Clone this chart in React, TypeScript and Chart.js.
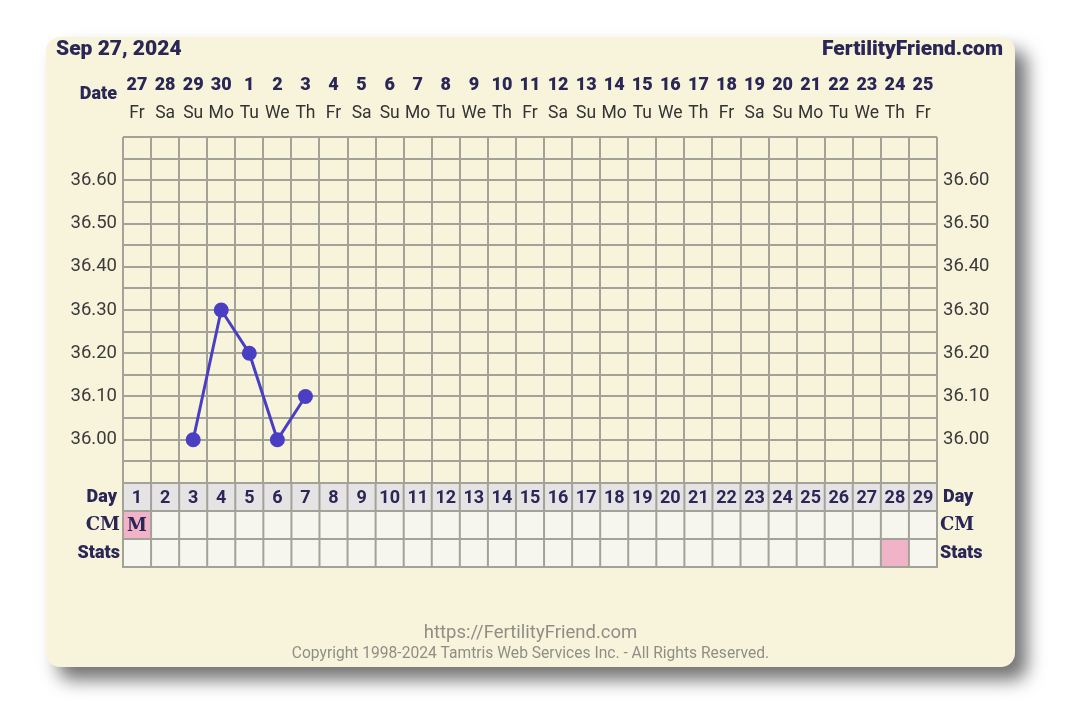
import React, { useEffect, useRef } from "react";
import { Chart, registerables } from "chart.js";

Chart.register(...registerables);

const chartTitle = "Sep 27, 2024";
const siteName = "FertilityFriend.com";
const footerUrl = "https://FertilityFriend.com";
const footerCopy = "Copyright 1998-2024 Tamtris Web Services Inc. - All Rights Reserved.";

const dates = ["27","28","29","30","1","2","3","4","5","6","7","8","9","10","11","12","13","14","15","16","17","18","19","20","21","22","23","24","25"];
const weekdays = ["Fr","Sa","Su","Mo","Tu","We","Th","Fr","Sa","Su","Mo","Tu","We","Th","Fr","Sa","Su","Mo","Tu","We","Th","Fr","Sa","Su","Mo","Tu","We","Th","Fr"];
const cycleDays = ["1","2","3","4","5","6","7","8","9","10","11","12","13","14","15","16","17","18","19","20","21","22","23","24","25","26","27","28","29"];
const temps: (number | null)[] = [null, null, 36.0, 36.3, 36.2, 36.0, 36.1, null, null, null, null, null, null, null, null, null, null, null, null, null, null, null, null, null, null, null, null, null, null];
const cmLabels = ["M","","","","","","","","","","","","","","","","","","","","","","","","","","","",""];
const cmHighlight = [true,false,false,false,false,false,false,false,false,false,false,false,false,false,false,false,false,false,false,false,false,false,false,false,false,false,false,false,false];
const statsHighlight = [false,false,false,false,false,false,false,false,false,false,false,false,false,false,false,false,false,false,false,false,false,false,false,false,false,false,false,true,false];
const tempGridTicks = [35.9, 35.95, 36.0, 36.05, 36.1, 36.15, 36.2, 36.25, 36.3, 36.35, 36.4, 36.45, 36.5, 36.55, 36.6, 36.65, 36.7];
const tempLabelTicks = [36.0, 36.1, 36.2, 36.3, 36.4, 36.5, 36.6];

const NAVY = "#2a2655";
const GRID = "#a3a299";
const LINE = "#4a3fc2";
const PINK = "#f1b3c7";

const W = 969;
const H = 630;

const labelFor = (v: number) => {
  const hit = tempLabelTicks.find((t) => Math.abs(t - v) < 1e-6);
  return hit !== undefined ? hit.toFixed(2) : "";
};

const overlayPlugin = {
  id: "ffOverlay",
  afterDraw(chart: any) {
    const ctx = chart.ctx as CanvasRenderingContext2D;
    const x = chart.scales.x;
    const area = chart.chartArea;
    const colW = (area.right - area.left) / cycleDays.length;
    ctx.save();
    ctx.textBaseline = "middle";

    // Title row
    ctx.fillStyle = NAVY;
    ctx.font = "900 21px Roboto";
    ctx.textAlign = "left";
    ctx.fillText(chartTitle, 10, 13);
    ctx.textAlign = "right";
    ctx.fillText(siteName, 957, 13);

    // Date header
    ctx.font = "900 18px Roboto";
    ctx.textAlign = "right";
    ctx.fillText("Date", 71, 57);
    ctx.textAlign = "center";
    dates.forEach((d, i) => {
      ctx.fillStyle = NAVY;
      ctx.font = "900 18px Roboto";
      ctx.fillText(d, x.getPixelForValue(i), 48);
      ctx.fillStyle = "#333333";
      ctx.font = "17.5px Roboto";
      ctx.fillText(weekdays[i], x.getPixelForValue(i), 77);
    });

    // Bottom rows
    const rowH = 28;
    const top = area.bottom;
    const rows = [
      { y: top, fill: "#e5e3e4" },
      { y: top + rowH, fill: "#f6f5ee" },
      { y: top + rowH * 2, fill: "#f6f5ee" },
    ];
    cycleDays.forEach((d, i) => {
      const cx = x.getPixelForValue(i);
      const left = cx - colW / 2;
      rows.forEach((r, ri) => {
        let fill = r.fill;
        if (ri === 1 && cmHighlight[i]) fill = PINK;
        if (ri === 2 && statsHighlight[i]) fill = PINK;
        ctx.fillStyle = fill;
        ctx.fillRect(left, r.y, colW, rowH);
      });
    });
    ctx.strokeStyle = GRID;
    ctx.lineWidth = 2;
    for (let i = 0; i <= cycleDays.length; i++) {
      const lx = area.left + colW * i;
      ctx.beginPath();
      ctx.moveTo(lx, top);
      ctx.lineTo(lx, top + rowH * 3);
      ctx.stroke();
    }
    for (let r = 0; r <= 3; r++) {
      ctx.beginPath();
      ctx.moveTo(area.left - 1, top + rowH * r);
      ctx.lineTo(area.right + 1, top + rowH * r);
      ctx.stroke();
    }
    cycleDays.forEach((d, i) => {
      const cx = x.getPixelForValue(i);
      ctx.fillStyle = NAVY;
      ctx.textAlign = "center";
      ctx.font = "bold 18px Roboto";
      ctx.fillText(d, cx, top + rowH / 2 + 1);
      if (cmLabels[i]) {
        ctx.font = "bold 18px 'DejaVu Serif'";
        ctx.fillText(cmLabels[i], cx, top + rowH * 1.5 + 1);
      }
    });

    // Row labels
    ctx.fillStyle = NAVY;
    ctx.font = "900 18px Roboto";
    ctx.textAlign = "right";
    ctx.fillText("Day", 71, top + rowH / 2);
    ctx.fillText("Stats", 74, top + rowH * 2.5);
    ctx.font = "bold 18px 'DejaVu Serif'";
    ctx.fillText("CM", 74, top + rowH * 1.5);
    ctx.textAlign = "left";
    ctx.font = "900 18px Roboto";
    ctx.fillText("Day", 897, top + rowH / 2);
    ctx.fillText("Stats", 894, top + rowH * 2.5);
    ctx.font = "bold 18px 'DejaVu Serif'";
    ctx.fillText("CM", 894, top + rowH * 1.5);

    // Footer
    ctx.fillStyle = "#8e8e86";
    ctx.textAlign = "center";
    ctx.font = "18.5px Roboto";
    ctx.fillText(footerUrl, W / 2, 596);
    ctx.font = "15.6px Roboto";
    ctx.fillText(footerCopy, W / 2, 617);
    ctx.restore();
  },
};

export default function App() {
  const ref = useRef<HTMLCanvasElement | null>(null);
  useEffect(() => {
    if (!ref.current) return;
    const yCommon = {
      type: "linear" as const,
      min: 35.9,
      max: 36.7,
      afterBuildTicks: (scale: any) => {
        scale.ticks = tempGridTicks.map((v) => ({ value: v }));
      },
      ticks: {
        autoSkip: false,
        color: "#3a3a3a",
        font: { family: "Roboto", size: 18.5 },
        padding: 6,
        callback: (v: any) => labelFor(Number(v)),
      },
      border: { display: false },
    };
    const chart = new Chart(ref.current, {
      type: "line",
      data: {
        labels: cycleDays,
        datasets: [
          {
            data: temps,
            borderColor: LINE,
            backgroundColor: LINE,
            borderWidth: 3,
            pointRadius: 7.5,
            pointBackgroundColor: LINE,
            pointBorderWidth: 0,
            spanGaps: false,
            tension: 0,
          },
        ],
      },
      options: {
        animation: false,
        responsive: false,
        devicePixelRatio: 1,
        layout: { padding: { top: 100, bottom: 184, left: 0, right: 0 } },
        plugins: { legend: { display: false }, tooltip: { enabled: false } },
        scales: {
          x: {
            type: "category",
            offset: true,
            grid: { offset: true, color: GRID, lineWidth: 2, drawTicks: false },
            border: { display: true, color: GRID, width: 2 },
            ticks: { display: false },
            afterFit: (s: any) => { s.height = 0; },
          },
          y: {
            ...yCommon,
            position: "left",
            grid: { color: GRID, lineWidth: 2, drawTicks: false },
            afterFit: (s: any) => { s.width = 77; },
          },
          y2: {
            ...yCommon,
            position: "right",
            grid: { display: false, drawTicks: false },
            ticks: { ...yCommon.ticks, padding: 6 },
            afterFit: (s: any) => { s.width = 78; },
          },
        },
      } as any,
      plugins: [overlayPlugin],
    });
    return () => chart.destroy();
  }, []);

  return (
    <div style={{ position: "absolute", left: 0, top: 0, width: 1080, height: 710, background: "#ffffff" }}>
      <div
        style={{
          position: "absolute",
          left: 46,
          top: 37,
          width: W,
          height: H,
          borderRadius: 14,
          background: "#f8f4dc",
          boxShadow: "12px 13px 18px rgba(0,0,0,0.55)",
          overflow: "hidden",
        }}
      >
        <canvas ref={ref} width={W} height={H} style={{ width: W, height: H, display: "block" }} />
      </div>
    </div>
  );
}
